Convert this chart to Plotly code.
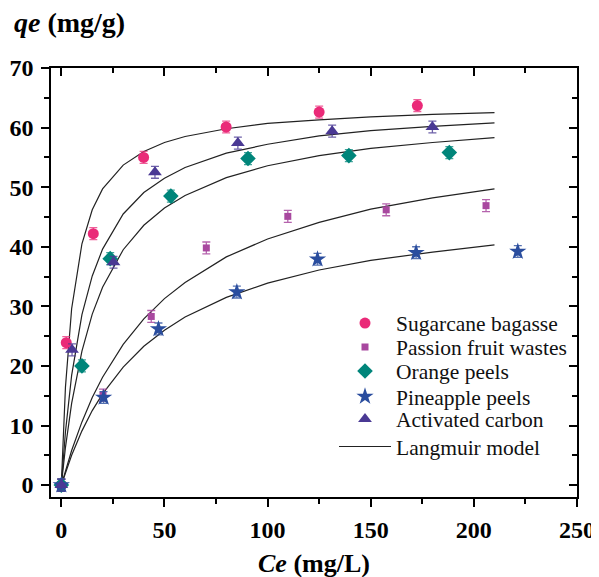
import plotly.graph_objects as go

SERIF = "Liberation Serif"

# ---------------- data ----------------
ce_sugar = [0, 2.4, 15.5, 39.9, 79.9, 125.0, 172.6]
qe_sugar = [0, 23.9, 42.2, 55.0, 60.1, 62.6, 63.7]

ce_passion = [0, 20.2, 43.6, 70.3, 109.8, 157.5, 205.9]
qe_passion = [0, 15.1, 28.3, 39.8, 45.1, 46.2, 46.9]

ce_orange = [0, 10.0, 23.7, 53.1, 90.5, 139.4, 188.1]
qe_orange = [0, 20.0, 38.0, 48.5, 54.8, 55.3, 55.8]

ce_pine = [0, 20.5, 47.1, 85.1, 124.2, 172.0, 221.3]
qe_pine = [0, 14.7, 26.2, 32.4, 37.9, 39.0, 39.2]

ce_ac = [0, 5.2, 25.3, 45.4, 85.6, 131.3, 179.9]
qe_ac = [0, 22.7, 37.4, 52.5, 57.4, 59.4, 60.1]

err = [1.0, 1.0, 1.0, 1.0, 1.0, 1.0, 1.0]

# Langmuir model curves
ce_model = [0, 2, 5, 10, 15, 20, 30, 40, 50, 60, 80, 100, 125, 150, 180, 210]
lm_sugar = [0, 16.4, 29.6, 40.5, 46.2, 49.7, 53.7, 56.0, 57.5, 58.5, 59.8, 60.7, 61.3, 61.8, 62.2, 62.5]
lm_ac = [0, 8.9, 18.4, 28.6, 35.1, 39.6, 45.5, 49.1, 51.5, 53.3, 55.7, 57.2, 58.6, 59.5, 60.2, 60.8]
lm_orange = [0, 6.3, 13.7, 22.5, 28.7, 33.2, 39.5, 43.6, 46.5, 48.6, 51.6, 53.6, 55.3, 56.5, 57.5, 58.3]
lm_passion = [0, 2.5, 5.8, 10.6, 14.7, 18.1, 23.6, 27.9, 31.3, 34.0, 38.3, 41.3, 44.1, 46.3, 48.2, 49.7]
lm_pine = [0, 2.1, 5.0, 9.1, 12.5, 15.3, 19.8, 23.3, 26.0, 28.2, 31.5, 33.9, 36.1, 37.7, 39.1, 40.3]

x_ticks = [0, 50, 100, 150, 200, 250]
y_ticks = [0, 10, 20, 30, 40, 50, 60, 70]

names = ["Sugarcane bagasse", "Passion fruit wastes", "Orange peels",
         "Pineapple peels", "Activated carbon", "Langmuir model"]

# ---------------- figure ----------------
fig = go.Figure()

model_sets = [lm_sugar, lm_ac, lm_orange, lm_passion, lm_pine]
for i, ys in enumerate(model_sets):
    fig.add_trace(go.Scatter(
        x=ce_model, y=ys, mode="lines",
        line=dict(color="#222222", width=1.2),
        name=names[5], showlegend=(i == 0), legend="legend6",
        hoverinfo="skip"))

series = [
    (ce_sugar, qe_sugar, "#EA2A78", "rgba(234,42,120,0.75)", "circle", 11, "legend"),
    (ce_passion, qe_passion, "#A8489F", "rgba(168,72,159,0.85)", "square", 7, "legend2"),
    (ce_orange, qe_orange, "#00857A", "rgba(0,133,122,0.75)", "diamond", 12, "legend3"),
    (ce_pine, qe_pine, "#2A4D9E", "rgba(42,77,158,0.8)", "star", 13, "legend4"),
    (ce_ac, qe_ac, "#4A3994", "rgba(74,57,148,0.8)", "triangle-up", 12, "legend5"),
]
for k, (xs, ys, col, ecol, sym, sz, lg) in enumerate(series):
    fig.add_trace(go.Scatter(
        x=xs, y=ys, mode="markers", name=names[k], legend=lg,
        marker=dict(symbol=sym, size=sz, color=col, line=dict(width=0)),
        error_y=dict(type="data", array=err, color=ecol, thickness=1.3, width=4)))

# invisible trace to realise the mirrored top/right axes
fig.add_trace(go.Scatter(x=ce_sugar, y=qe_sugar, xaxis="x2", yaxis="y2",
                         mode="markers", marker=dict(opacity=0),
                         showlegend=False, hoverinfo="skip"))

tickfont = dict(family=SERIF, size=24, color="black", weight="bold")
axis_common = dict(showgrid=False, zeroline=False, showline=True,
                   linecolor="black", linewidth=1.5, tickcolor="black",
                   tickwidth=1.5, automargin=False)

# the page adds an 8px body margin, so the figure is 8px smaller than the window
fig.update_layout(
    width=591, height=569,
    margin=dict(l=43, r=22, t=60, b=80, autoexpand=False),
    paper_bgcolor="white", plot_bgcolor="white",
    xaxis=dict(range=[-5, 250], tickvals=x_ticks, ticks="outside", ticklen=8,
               minor=dict(dtick=25, tick0=0, ticks="outside", ticklen=5,
                          tickcolor="black", tickwidth=1.5),
               tickfont=tickfont, ticklabelstandoff=2, **axis_common),
    yaxis=dict(range=[-2, 70], tickvals=y_ticks, ticks="outside", ticklen=8,
               minor=dict(dtick=5, tick0=0, ticks="outside", ticklen=5,
                          tickcolor="black", tickwidth=1.5),
               tickfont=tickfont, ticklabelstandoff=3, **axis_common),
    xaxis2=dict(range=[-5, 250], overlaying="x", side="top", anchor="y",
                tickvals=x_ticks, ticks="inside", ticklen=8,
                minor=dict(dtick=25, tick0=0, ticks="inside", ticklen=5,
                           tickcolor="black", tickwidth=1.5),
                showticklabels=False, **axis_common),
    yaxis2=dict(range=[-2, 70], overlaying="y", side="right", anchor="x",
                tickvals=y_ticks, ticks="inside", ticklen=8,
                minor=dict(dtick=5, tick0=0, ticks="inside", ticklen=5,
                           tickcolor="black", tickwidth=1.5),
                showticklabels=False, **axis_common),
    annotations=[
        dict(text="<b><i>qe</i> (mg/g)</b>", xref="paper", yref="paper",
             x=-0.074, y=1.107, xanchor="left", yanchor="middle",
             showarrow=False, font=dict(family=SERIF, size=28, color="black")),
        dict(text="<b><i>Ce</i> (mg/L)</b>", xref="paper", yref="paper",
             x=0.5, y=-0.154, xanchor="center", yanchor="middle",
             showarrow=False, font=dict(family=SERIF, size=26, color="black")),
    ],
)

row_y = [0.4055, 0.3495, 0.2936, 0.2343, 0.1817, 0.1177]
leg_keys = ["legend", "legend2", "legend3", "legend4", "legend5", "legend6"]
for key, yy in zip(leg_keys, row_y):
    fig.update_layout({key: dict(x=(334 - 51) / 526, y=yy, xanchor="left",
                                 yanchor="middle", itemwidth=52,
                                 bgcolor="rgba(0,0,0,0)", borderwidth=0,
                                 font=dict(family=SERIF, size=21.5, color="#111111"))})

fig.write_html("out.html")
